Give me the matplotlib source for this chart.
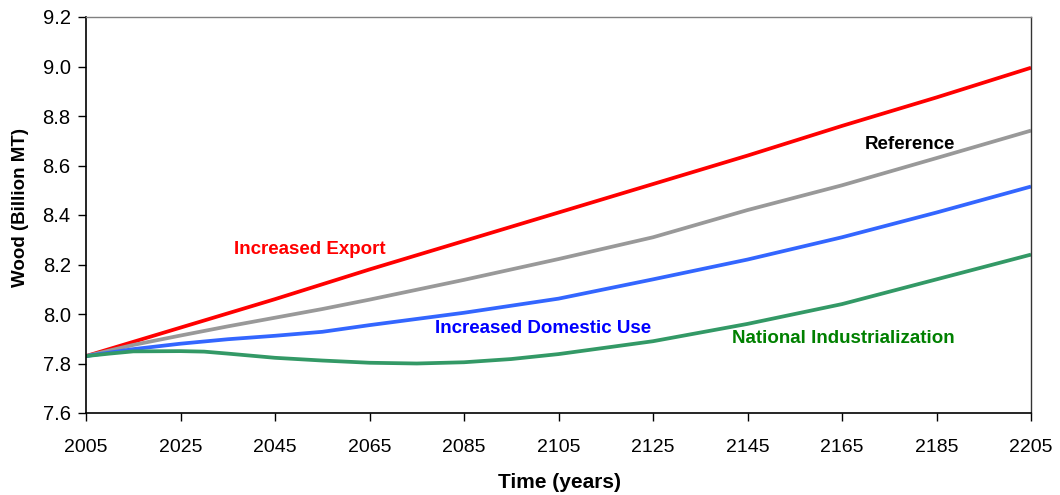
import matplotlib
matplotlib.use("Agg")
import matplotlib.pyplot as plt

plt.rcParams['font.family'] = ['Liberation Sans', 'DejaVu Sans']

# Projected wood stock (billion metric tons) under four scenarios
export_years = [2005, 2025, 2045, 2065, 2085, 2105, 2125, 2145, 2165, 2185, 2205]
export_vals = [7.83, 7.945, 8.06, 8.18, 8.295, 8.41, 8.525, 8.64, 8.76, 8.875, 8.995]

reference_years = [2005, 2015, 2025, 2035, 2045, 2055, 2065, 2085, 2105, 2125, 2145, 2165, 2185, 2205]
reference_vals = [7.83, 7.875, 7.913, 7.95, 7.985, 8.02, 8.058, 8.138, 8.222, 8.31, 8.42, 8.52, 8.63, 8.741]

domestic_years = [2005, 2015, 2025, 2035, 2045, 2055, 2065, 2085, 2105, 2125, 2145, 2165, 2185, 2205]
domestic_vals = [7.83, 7.858, 7.88, 7.898, 7.912, 7.928, 7.955, 8.005, 8.062, 8.14, 8.22, 8.31, 8.41, 8.515]

industrial_years = [2005, 2010, 2015, 2025, 2030, 2035, 2045, 2055, 2065, 2075, 2085, 2095, 2105,
                    2125, 2145, 2165, 2185, 2205]
industrial_vals = [7.83, 7.84, 7.849, 7.85, 7.848, 7.84, 7.823, 7.812, 7.803, 7.80, 7.805, 7.818, 7.838,
                   7.89, 7.96, 8.04, 8.14, 8.24]

x_ticks = [2005, 2025, 2045, 2065, 2085, 2105, 2125, 2145, 2165, 2185, 2205]
y_ticks = [7.6, 7.8, 8.0, 8.2, 8.4, 8.6, 8.8, 9.0, 9.2]

fig = plt.figure(figsize=(10.6, 4.95), dpi=100)
ax = fig.add_axes([86 / 1060, 1 - 413 / 495, (1031 - 86) / 1060, (413 - 17) / 495])

lw = 2.7
ax.plot(export_years, export_vals, color='#FF0000', lw=lw, solid_capstyle='butt')
ax.plot(reference_years, reference_vals, color='#999999', lw=lw, solid_capstyle='butt')
ax.plot(domestic_years, domestic_vals, color='#3366FF', lw=lw, solid_capstyle='butt')
ax.plot(industrial_years, industrial_vals, color='#339966', lw=lw, solid_capstyle='butt')

ax.set_xlim(2005, 2205)
ax.set_ylim(7.6, 9.2)
ax.set_xticks(x_ticks)
ax.set_xticklabels([str(t) for t in x_ticks])
ax.set_yticks(y_ticks)
ax.set_yticklabels([f"{t:.1f}" for t in y_ticks])
ax.tick_params(axis='both', direction='out', length=6, width=1, colors='black')
ax.tick_params(axis='x', labelsize=14, pad=13)
ax.tick_params(axis='y', labelsize=14.5, pad=5)

for side in ('left', 'bottom'):
    ax.spines[side].set_color('black')
    ax.spines[side].set_linewidth(1.2)
ax.spines['top'].set_color('#808080')
ax.spines['top'].set_linewidth(1.0)
ax.spines['right'].set_color('#333333')
ax.spines['right'].set_linewidth(1.0)

fig.text(559 / 1060, 1 - 482 / 495, 'Time (years)', fontsize=15, fontweight='bold',
         ha='center', va='center')
fig.text(21 / 1060, 1 - 207.5 / 495, 'Wood (Billion MT)', fontsize=13.5, fontweight='bold',
         ha='center', va='center', rotation=90)

label_kw = dict(fontsize=13.5, fontweight='bold', ha='center', va='center')
ax.text(2052.4, 8.26, 'Increased Export', color='#FF0000', **label_kw)
ax.text(2179.4, 8.685, 'Reference', color='black', **label_kw)
ax.text(2101.7, 7.94, 'Increased Domestic Use', color='#0000FF', **label_kw)
ax.text(2165.2, 7.902, 'National Industrialization', color='#008000', **label_kw)

fig.savefig('out.png', dpi=100)
